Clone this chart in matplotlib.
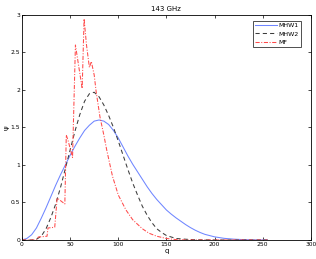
import matplotlib
matplotlib.use("Agg")
import matplotlib.pyplot as plt

# MHW1 (blue solid)
q_mhw1 = [0, 5, 10, 15, 20, 25, 30, 35, 40, 45, 50, 55, 60, 65, 70, 75, 80, 85, 90, 95,
          100, 105, 110, 115, 120, 125, 130, 135, 140, 145, 150, 155, 160, 165, 170, 175,
          180, 185, 190, 200, 210, 220, 230, 240, 250, 255]
v_mhw1 = [0.0, 0.02, 0.07, 0.16, 0.29, 0.43, 0.58, 0.73, 0.87, 1.0, 1.13, 1.25, 1.36, 1.46,
          1.53, 1.585, 1.60, 1.585, 1.54, 1.46, 1.36, 1.24, 1.12, 1.01, 0.91, 0.81, 0.71,
          0.62, 0.54, 0.47, 0.40, 0.345, 0.295, 0.25, 0.205, 0.165, 0.13, 0.10, 0.075,
          0.042, 0.022, 0.011, 0.005, 0.002, 0.001, 0.0]

# MHW2 (black dashed)
q_mhw2 = [0, 10, 15, 20, 25, 30, 35, 40, 45, 50, 55, 60, 65, 70, 75, 80, 85, 90, 95, 100,
          105, 110, 115, 120, 125, 130, 135, 140, 145, 150, 155, 160, 170, 180, 200, 255]
v_mhw2 = [0.0, 0.0, 0.01, 0.05, 0.15, 0.30, 0.48, 0.70, 0.95, 1.20, 1.45, 1.67, 1.85, 1.95,
          1.97, 1.91, 1.80, 1.66, 1.50, 1.32, 1.13, 0.94, 0.76, 0.60, 0.45, 0.33, 0.23, 0.15,
          0.10, 0.06, 0.04, 0.02, 0.01, 0.003, 0.0, 0.0]

# MF (red dash-dot)
q_mf = [0, 15, 17, 26, 27, 34, 36.5, 44.5, 46, 48, 52.5, 55.5, 62.5, 64.5, 67, 70, 72, 75,
        77, 81, 85, 88, 94, 100, 108, 115, 125, 132, 140, 150, 160, 170, 255]
v_mf = [0.0, 0.0, 0.04, 0.05, 0.16, 0.17, 0.56, 0.48, 1.4, 1.32, 1.1, 2.6, 2.02, 2.95, 2.6,
        2.3, 2.38, 2.2, 1.98, 1.64, 1.4, 1.2, 0.85, 0.6, 0.4, 0.27, 0.15, 0.09, 0.05, 0.02,
        0.005, 0.0, 0.0]

xticks = [0, 50, 100, 150, 200, 250, 300]
yticks = [0, 0.5, 1, 1.5, 2, 2.5, 3]
xticklabels = ["0", "50", "100", "150", "200", "250", "300"]
yticklabels = ["0", "0.5", "1", "1.5", "2", "2.5", "3"]

fig = plt.figure(figsize=(3.16, 2.59), dpi=100)
ax = fig.add_axes([0.0696, 0.0734, 0.914, 0.8687])

ax.plot(q_mhw1, v_mhw1, color="#6f86ff", lw=0.75, ls="-", label="MHW1")
ax.plot(q_mhw2, v_mhw2, color="#3c3c3c", lw=0.75, ls=(0, (4, 3)), label="MHW2")
ax.plot(q_mf, v_mf, color="#ff4a4a", lw=0.75, ls=(0, (4, 1.5, 1, 1.5)), label="MF")

ax.set_xlim(0, 300)
ax.set_ylim(0, 3)
ax.set_xticks(xticks)
ax.set_xticklabels(xticklabels)
ax.set_yticks(yticks)
ax.set_yticklabels(yticklabels)
ax.tick_params(direction="in", length=2.5, width=0.5, labelsize=4.3, pad=1.5,
               top=True, right=True)
for s in ax.spines.values():
    s.set_linewidth(0.6)

ax.set_title("143 GHz", fontsize=5, pad=3)
ax.set_xlabel("q", fontsize=5, labelpad=0.5)
ax.set_ylabel("ψ", fontsize=5, labelpad=0.5)

leg = ax.legend(loc="upper right", fontsize=4.5, frameon=True, fancybox=False,
                edgecolor="black", handlelength=3.4, borderpad=0.35, labelspacing=0.5,
                handletextpad=0.3, borderaxespad=0.9, bbox_to_anchor=(0.985, 1.0))
leg.get_frame().set_linewidth(0.6)

fig.savefig("out.png", dpi=100)
